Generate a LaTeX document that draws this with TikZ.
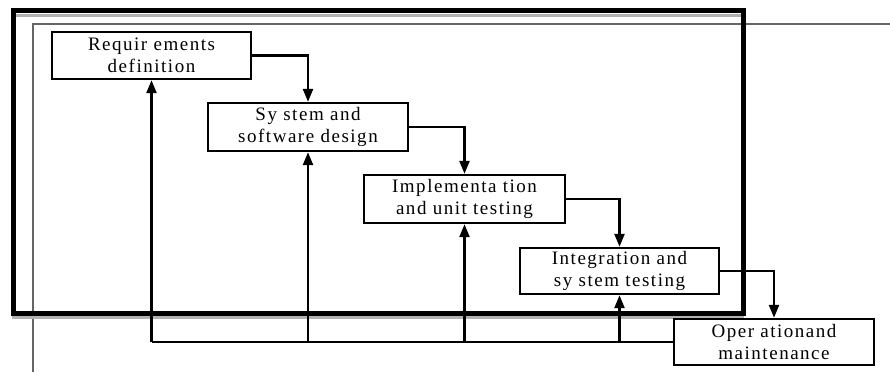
\documentclass[tikz,border=0pt]{standalone}
\usepackage{fontspec}
\setmainfont{Liberation Serif}
\newfontfamily\boxfont[LetterSpace=8]{Liberation Serif}
\usetikzlibrary{arrows.meta}
\begin{document}
\begin{tikzpicture}[x=1pt,y=-1pt,
  phase/.style={draw=black,line width=2.4pt,fill=white,inner sep=0pt,align=center,
    font=\boxfont\fontsize{19}{21.5}\selectfont},
  flow/.style={line width=2.4pt,-{Triangle[length=13pt,width=10pt]}},
  bus/.style={line width=2.4pt}]
\useasboundingbox (0,0) rectangle (890,372);
% thin partial frame
\draw[line width=1.5pt,gray!80!black] (890,24) -- (33,24) -- (33,372);
% thick frame with shadow band
\draw[line width=3pt,gray!60] (16,15) -- (741,15);
\draw[line width=3pt,gray!60] (12,317) -- (744,317);
\draw[line width=5pt] (13,10) rectangle (743,313);
% phases
\node[phase,minimum width=199pt,minimum height=47pt] (b1) at (151.5,55.5) {Requir ements\\definition};
\node[phase,minimum width=200pt,minimum height=48pt] (b2) at (308,127) {Sy stem and\\software design};
\node[phase,minimum width=201pt,minimum height=48pt] (b3) at (464.5,199) {Implementa tion\\and unit testing};
\node[phase,minimum width=199pt,minimum height=46pt] (b4) at (619.5,271) {Integration and\\sy stem testing};
\node[phase,minimum width=200pt,minimum height=46pt] (b5) at (774,342) {Oper ationand\\maintenance};
% forward flow
\draw[flow] (b1.east) -| (b2.north);
\draw[flow] (b2.east) -| (b3.north);
\draw[flow] (b3.east) -| (b4.north);
\draw[flow] (b4.east) -| (b5.north);
% feedback
\coordinate (f1) at (b1.south |- b5.west);
\coordinate (f2) at (b2.south |- b5.west);
\coordinate (f3) at (b3.south |- b5.west);
\coordinate (f4) at (b4.south |- b5.west);
\draw[bus] (b5.west) -- (f1);
\draw[flow] (f1) -- (b1.south);
\draw[flow] (f2) -- (b2.south);
\draw[flow] (f3) -- (b3.south);
\draw[flow] (f4) -- (b4.south);
\end{tikzpicture}
\end{document}
